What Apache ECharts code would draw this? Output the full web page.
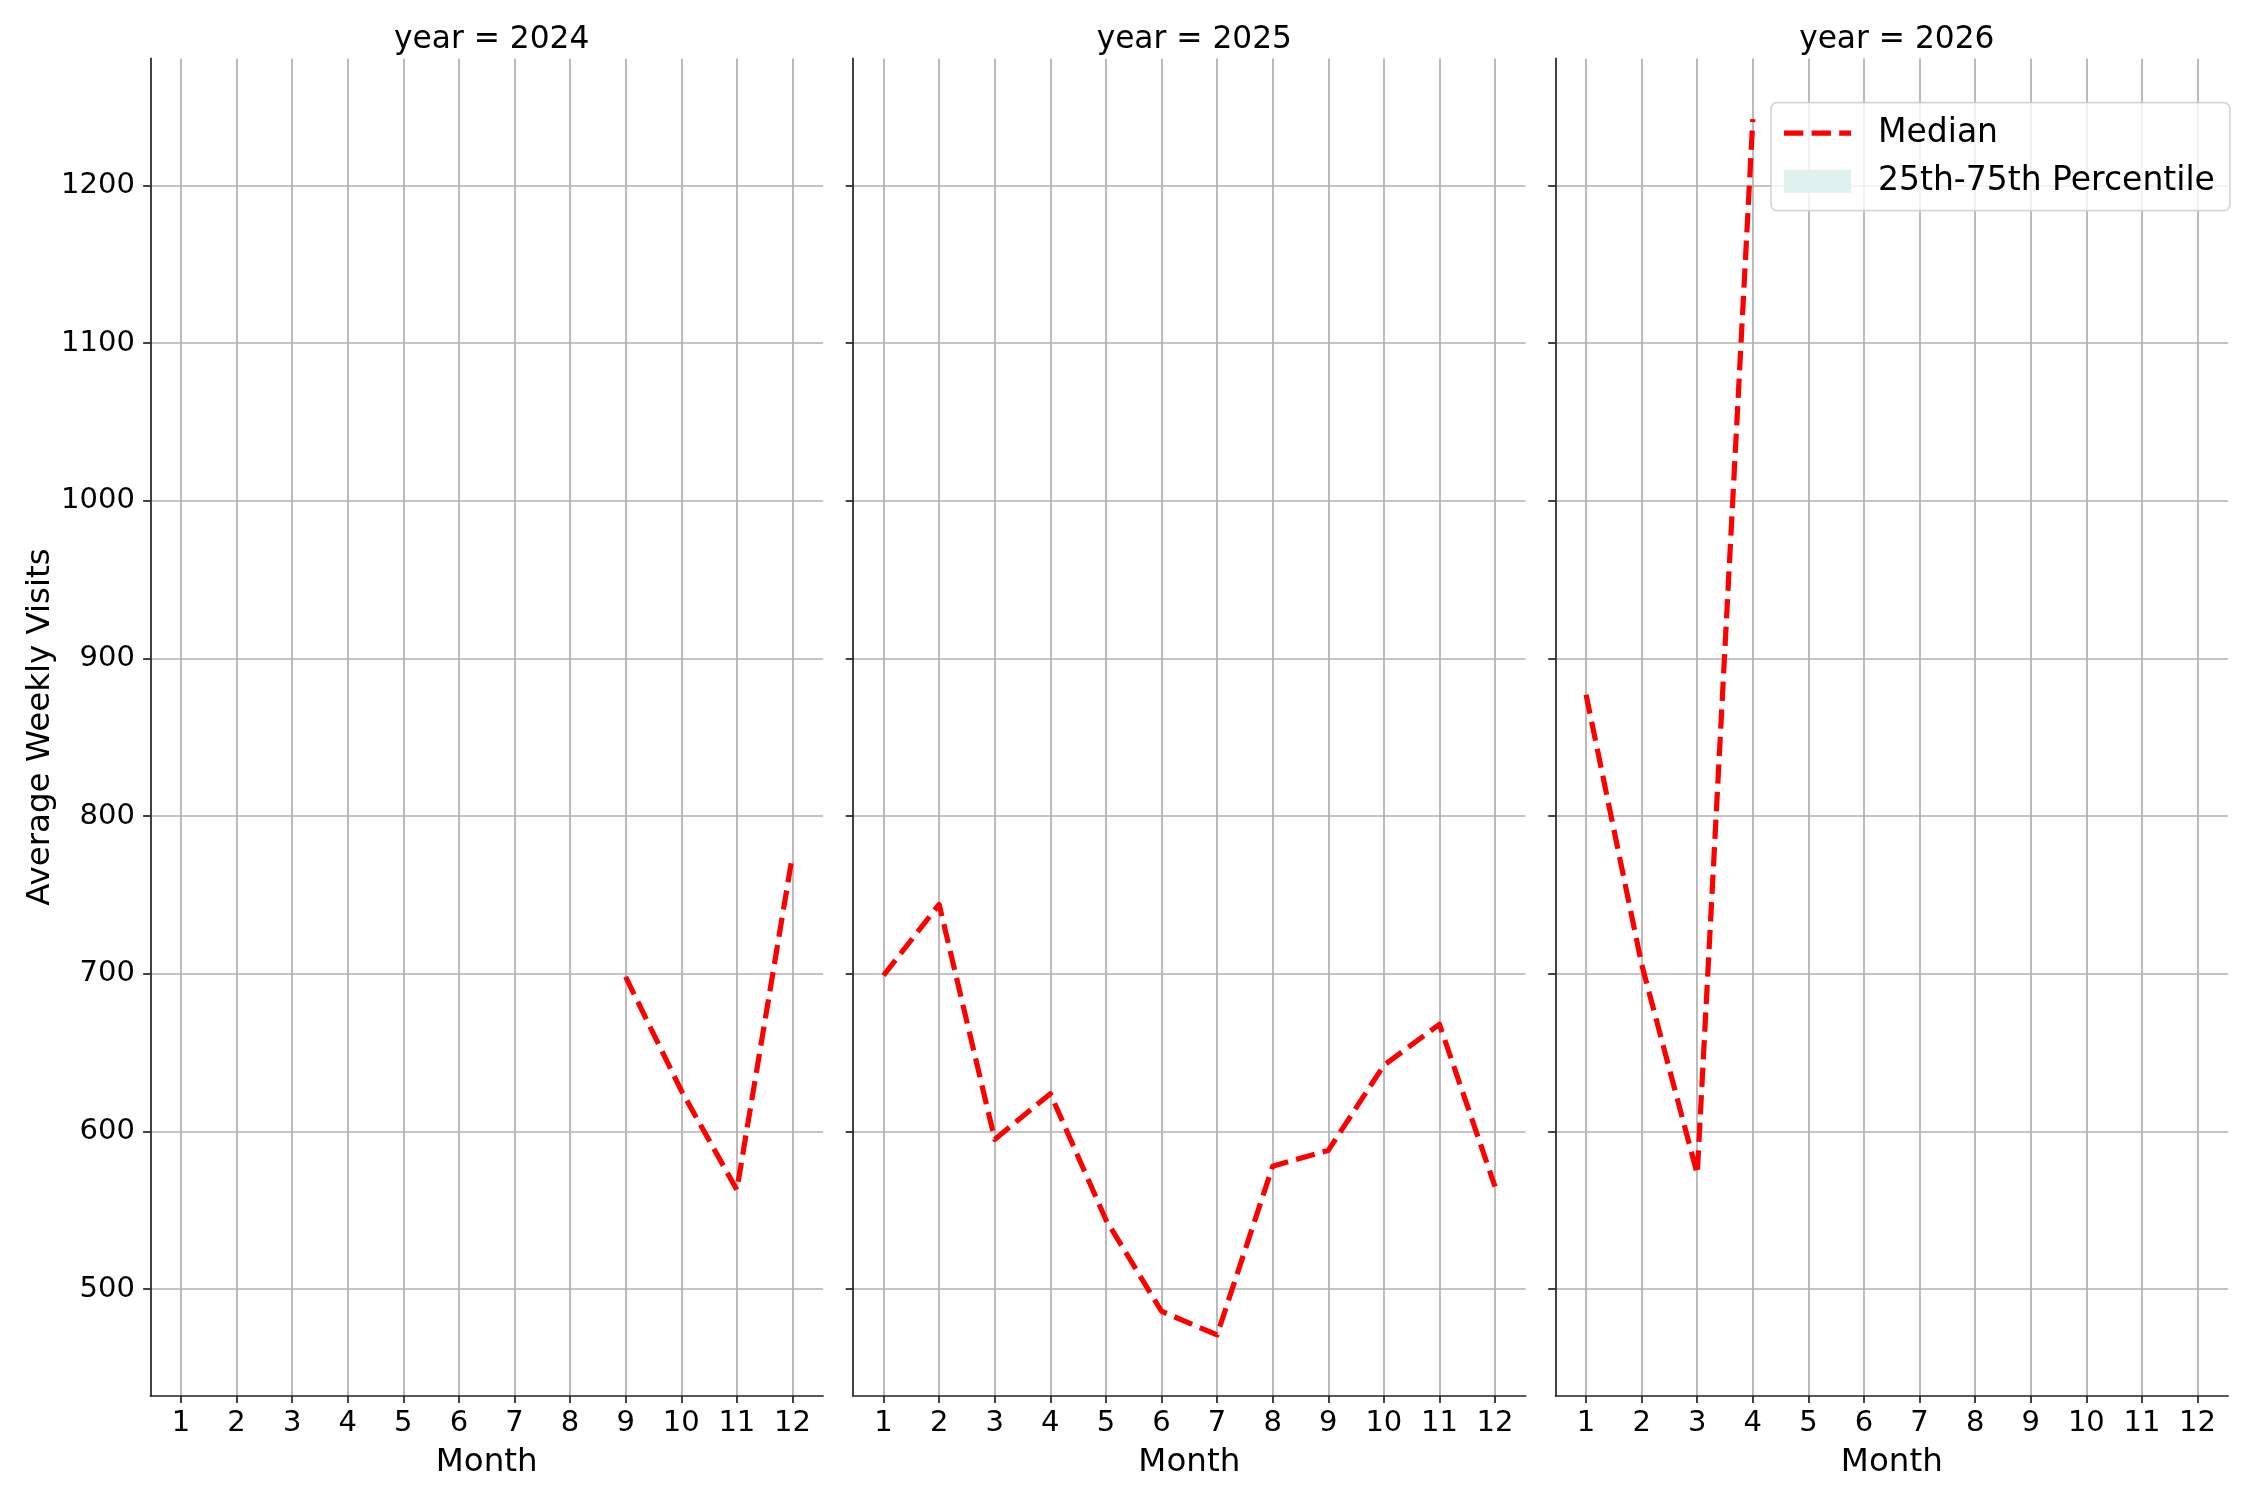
<!DOCTYPE html>
<html>
<head>
<meta charset="utf-8">
<script src="https://cdn.jsdelivr.net/npm/echarts@6/dist/echarts.min.js"></script>
<style>
html,body{margin:0;padding:0;background:#fff;}
#chart{width:2250px;height:1500px;}
</style>
</head>
<body>
<div id="chart"></div>
<script>
// ---- data ----
const years = [2024, 2025, 2026];
const months2024 = [9, 10, 11, 12];
const visits2024 = [698, 626, 563, 775];
const months2025 = [1, 2, 3, 4, 5, 6, 7, 8, 9, 10, 11, 12];
const visits2025 = [699, 744, 595, 624, 544, 486, 471, 578, 588, 642, 668, 565];
const months2026 = [1, 2, 3, 4];
const visits2026 = [877, 706, 573, 1242];
const monthTicks = [1, 2, 3, 4, 5, 6, 7, 8, 9, 10, 11, 12];
const visitTicks = [500, 600, 700, 800, 900, 1000, 1100, 1200];
const medianName = 'Median';
const bandName = '25th-75th Percentile';

const monthsByYear = [months2024, months2025, months2026];
const visitsByYear = [visits2024, visits2025, visits2026];

// axis bounds like matplotlib auto-margins (5%)
const allV = visits2024.concat(visits2025, visits2026);
const vLo = Math.min(...allV), vHi = Math.max(...allV);
const vPad = (vHi - vLo) * 0.05;
const yMin = vLo - vPad, yMax = vHi + vPad;
const mLo = Math.min(...monthTicks), mHi = Math.max(...monthTicks);
const mPad = (mHi - mLo) * 0.05;
const xMin = mLo - mPad, xMax = mHi + mPad;

const FONT = 'DejaVu Sans';
const AXIS_COLOR = '#222';
const GRID_COLOR = '#b0b0b0';
const RED = '#ff0000';
const BAND = '#dff1ec';

const panelLeft = [150.4, 853, 1555.5];
const panelWidth = 672.6;
const panelTop = 58.4;
const panelHeight = 1337.3;

const grids = [], xAxes = [], yAxes = [], series = [], titles = [];
years.forEach((yr, i) => {
  grids.push({left: panelLeft[i], top: panelTop, width: panelWidth, height: panelHeight,
              containLabel: false, outerBoundsMode: 'none'});
  xAxes.push({
    gridIndex: i, type: 'value', min: xMin, max: xMax,
    axisLine: {show: true, onZero: false, lineStyle: {color: AXIS_COLOR, width: 1.7}},
    axisTick: {show: true, length: 7.3, customValues: monthTicks, lineStyle: {color: AXIS_COLOR, width: 1.7}},
    axisLabel: {show: true, customValues: monthTicks, fontSize: 29, color: '#000', fontFamily: FONT, margin: 13.5,
                formatter: v => String(v)},
    splitLine: {show: true, lineStyle: {color: GRID_COLOR, width: 1.7}},
    name: 'Month', nameLocation: 'middle', nameGap: 50,
    nameTextStyle: {fontSize: 32.5, color: '#000', fontFamily: FONT}
  });
  yAxes.push({
    gridIndex: i, type: 'value', min: yMin, max: yMax,
    axisLine: {show: true, onZero: false, lineStyle: {color: AXIS_COLOR, width: 1.7}},
    axisTick: {show: true, length: 7.3, customValues: visitTicks, lineStyle: {color: AXIS_COLOR, width: 1.7}},
    axisLabel: {show: i === 0, customValues: visitTicks, fontSize: 29, color: '#000', fontFamily: FONT, margin: 15.5,
                formatter: v => String(v)},
    splitLine: {show: true, lineStyle: {color: GRID_COLOR, width: 1.7}},
    name: i === 0 ? 'Average Weekly Visits' : '', nameLocation: 'middle', nameRotate: 90, nameGap: 89,
    nameTextStyle: {fontSize: 32.5, color: '#000', fontFamily: FONT}
  });
  series.push({
    name: medianName, type: 'line', xAxisIndex: i, yAxisIndex: i,
    data: monthsByYear[i].map((m, k) => [m, visitsByYear[i][k]]),
    symbol: 'none', showSymbol: false,
    lineStyle: {color: RED, width: 5.2, type: [19.3, 8.3], join: 'round', cap: 'butt'},
    itemStyle: {color: RED},
    z: 5
  });
  titles.push({
    text: 'year = ' + yr, left: panelLeft[i] + panelWidth / 2, top: 19.5, textAlign: 'center',
    textStyle: {fontSize: 31.25, fontWeight: 'normal', color: '#000', fontFamily: FONT}
  });
});
// percentile band (no values available in the picture)
series.push({
  name: bandName, type: 'line', xAxisIndex: 2, yAxisIndex: 2, data: [],
  symbol: 'none', lineStyle: {width: 0}, areaStyle: {color: BAND}, itemStyle: {color: BAND}
});

// dashed legend handle drawn as a path (67 x 5.2)
const dashIcon = 'path://M0 0H19.3V5.2H0Z M27.6 0H46.9V5.2H27.6Z M55.2 0H67V5.2H55.2Z';

const chart = echarts.init(document.getElementById('chart'), null, {renderer: 'canvas'});
chart.setOption({
  animation: false,
  backgroundColor: '#fff',
  textStyle: {fontFamily: FONT},
  title: titles,
  grid: grids,
  xAxis: xAxes,
  yAxis: yAxes,
  legend: {
    orient: 'vertical', left: 1771, top: 102.7,
    padding: [14, 15, 13, 13],
    itemWidth: 67, itemHeight: 23, itemGap: 15,
    symbolKeepAspect: true,
    backgroundColor: 'rgba(255,255,255,0.8)',
    borderColor: 'rgba(204,204,204,0.8)', borderWidth: 1.7, borderRadius: 6,
    textStyle: {fontSize: 33, color: '#000', fontFamily: FONT, padding: [0, 0, 0, 22]},
    data: [
      {name: medianName, icon: dashIcon, itemStyle: {color: RED}},
      {name: bandName, icon: 'rect', itemStyle: {color: BAND}}
    ],
    selectedMode: false
  },
  series: series
});
</script>
</body>
</html>
